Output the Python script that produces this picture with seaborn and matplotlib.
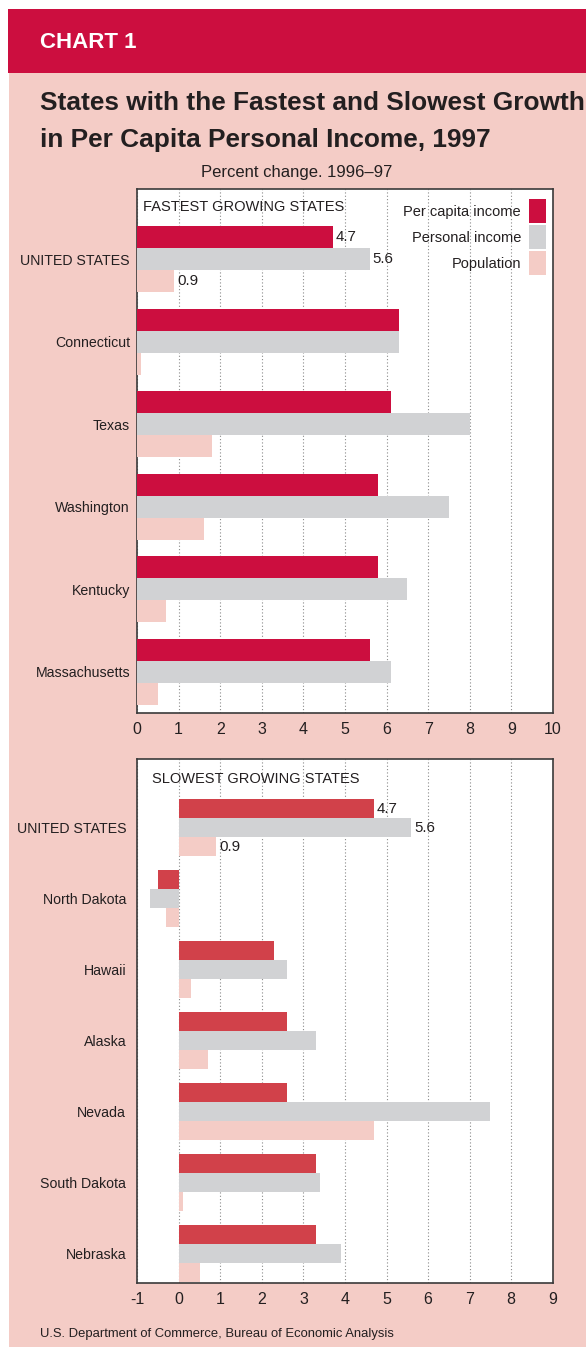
import pandas as pd
import matplotlib
matplotlib.use('Agg')
import matplotlib.pyplot as plt
import seaborn as sns
from matplotlib.patches import Rectangle

measures = ['Per capita income', 'Personal income', 'Population']

fast_states = ['UNITED STATES', 'Connecticut', 'Texas', 'Washington', 'Kentucky', 'Massachusetts']
fast_per_capita = [4.7, 6.3, 6.1, 5.8, 5.8, 5.6]
fast_personal = [5.6, 6.3, 8.0, 7.5, 6.5, 6.1]
fast_population = [0.9, 0.1, 1.8, 1.6, 0.7, 0.5]

slow_states = ['UNITED STATES', 'North Dakota', 'Hawaii', 'Alaska', 'Nevada', 'South Dakota', 'Nebraska']
slow_per_capita = [4.7, -0.5, 2.3, 2.6, 2.6, 3.3, 3.3]
slow_personal = [5.6, -0.7, 2.6, 3.3, 7.5, 3.4, 3.9]
slow_population = [0.9, -0.3, 0.3, 0.7, 4.7, 0.1, 0.5]

fast_ticks = list(range(0, 11))
slow_ticks = list(range(-1, 10))

RED = '#CC0E3F'
RED_LIGHT = '#D1414A'
GREY = '#D1D2D4'
PINK = '#F4CCC6'
INK = '#231F20'

sns.set_style('white')
plt.rcParams['font.family'] = ['Liberation Sans', 'DejaVu Sans']
plt.rcParams['text.color'] = INK


def to_long(states, per_capita, personal, population):
    df = pd.DataFrame({'state': states,
                       measures[0]: per_capita,
                       measures[1]: personal,
                       measures[2]: population})
    return df.melt(id_vars='state', var_name='measure', value_name='pct')


def draw_panel(ax, df, states, palette, title, title_xy, ticks, ylim, ypad):
    sns.barplot(data=df, x='pct', y='state', hue='measure', order=states,
                hue_order=measures, palette=palette, orient='h', width=0.8,
                saturation=1, errorbar=None, ax=ax, zorder=2, linewidth=0)
    ax.set_xlim(ticks[0], ticks[-1])
    ax.set_xticks(ticks)
    ax.set_xticklabels([str(t) for t in ticks])
    ax.set_ylim(*ylim)
    ax.set_xlabel('')
    ax.set_ylabel('')
    ax.set_axisbelow(True)
    ax.grid(axis='x', color='#8A8A8A', linestyle=(0, (1, 2)), linewidth=0.8)
    ax.grid(axis='y', visible=False)
    ax.tick_params(axis='x', length=0, pad=6.5, labelsize=11.5, labelcolor=INK)
    ax.tick_params(axis='y', length=0, pad=ypad, labelsize=10.2, labelcolor=INK)
    for sp in ax.spines.values():
        sp.set_visible(True)
        sp.set_color('#3A3A3A')
        sp.set_linewidth(1.2)
        sp.set_zorder(1.5)
    for cont in ax.containers:
        labels = ['%.1f' % v if i == 0 else '' for i, v in enumerate(cont.datavalues)]
        ax.bar_label(cont, labels=labels, padding=2, fontsize=10.8, color=INK)
    ax.text(title_xy[0], title_xy[1], title, transform=ax.transAxes,
            ha='left', va='center', fontsize=10.5, color=INK)


fig = plt.figure(figsize=(5.86, 13.47), dpi=100)
fig.patch.set_facecolor('white')

# page background and header band
fig.patches.append(Rectangle((9 / 586, 0), 1, 1 - 73 / 1347, transform=fig.transFigure,
                             facecolor=PINK, edgecolor='none', zorder=-2))
fig.patches.append(Rectangle((8 / 586, 1 - 73 / 1347), 1, 64 / 1347, transform=fig.transFigure,
                             facecolor=RED, edgecolor='none', zorder=-2))

fig.text(40 / 586, 1 - 48.3 / 1347, 'CHART 1', color='white', fontsize=16,
         fontweight='bold', va='baseline', ha='left')
fig.text(40 / 586, 1 - 110 / 1347, 'States with the Fastest and Slowest Growth',
         fontsize=18.9, fontweight='bold', va='baseline', ha='left', color=INK)
fig.text(40 / 586, 1 - 146.7 / 1347, 'in Per Capita Personal Income, 1997',
         fontsize=18.9, fontweight='bold', va='baseline', ha='left', color=INK)
fig.text(297 / 586, 1 - 177.5 / 1347, 'Percent change. 1996\u201397',
         fontsize=12, va='baseline', ha='center', color=INK)
fig.text(40 / 586, 1 - 1337 / 1347, 'U.S. Department of Commerce, Bureau of Economic Analysis',
         fontsize=9.4, va='baseline', ha='left', color=INK)

ax1 = fig.add_axes([137 / 586, 1 - 713 / 1347, 416 / 586, 524 / 1347])
ax2 = fig.add_axes([137.3 / 586, 1 - 1283 / 1347, 415.4 / 586, 524 / 1347])
ax1.set_facecolor('white')
ax2.set_facecolor('white')

fast_df = to_long(fast_states, fast_per_capita, fast_personal, fast_population)
slow_df = to_long(slow_states, slow_per_capita, slow_personal, slow_population)

draw_panel(ax1, fast_df, fast_states, [RED, GREY, PINK], 'FASTEST GROWING STATES',
           (0.0144, 0.9656), fast_ticks, (5.5, -0.85), 5)
draw_panel(ax2, slow_df, slow_states, [RED_LIGHT, GREY, PINK], 'SLOWEST GROWING STATES',
           (0.0347, 0.9618), slow_ticks, (6.42, -0.97), 8)

handles, labels = ax1.get_legend_handles_labels()
ax1.legend(handles, labels, loc='upper right', bbox_to_anchor=(0.983, 0.981),
           frameon=False, markerfirst=False, handlelength=1.16, handleheight=2.15,
           handletextpad=0.55, labelspacing=0.15, borderpad=0, borderaxespad=0,
           fontsize=10.5, labelcolor=INK)
leg2 = ax2.get_legend()
if leg2 is not None:
    leg2.remove()

fig.savefig('out.png', dpi=100, facecolor=fig.get_facecolor())
